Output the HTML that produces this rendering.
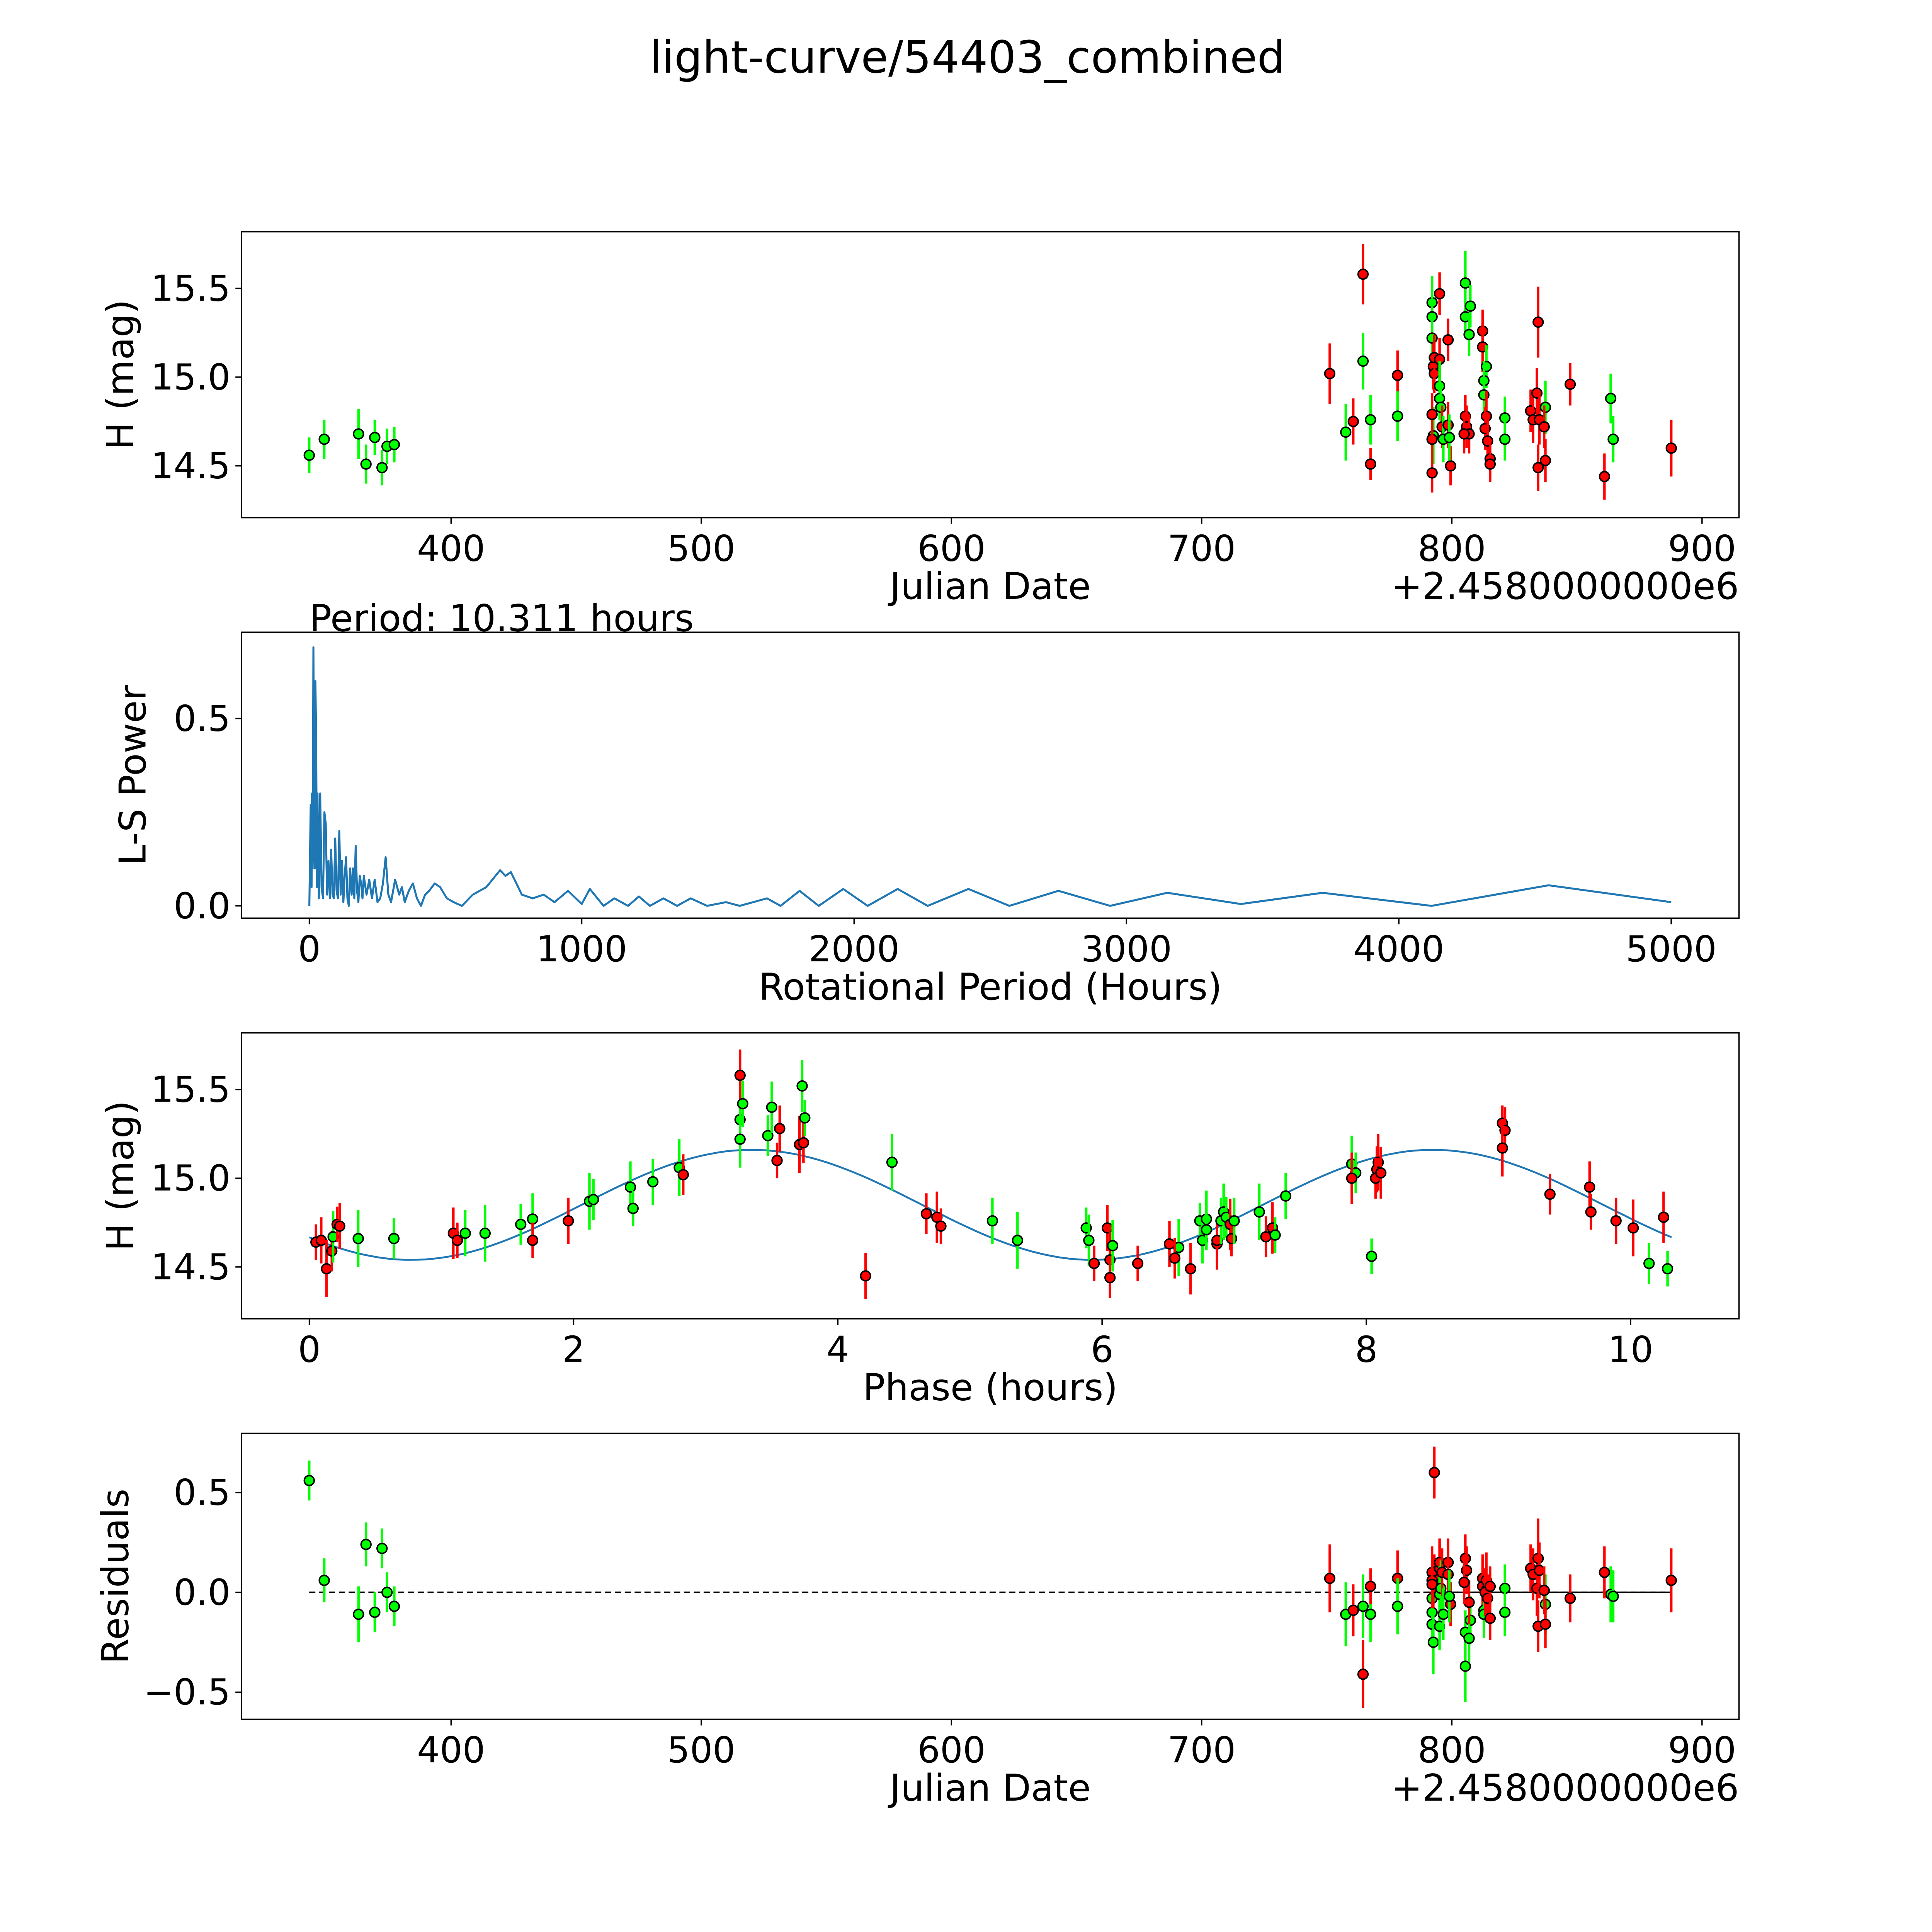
<!DOCTYPE html>
<html><head><meta charset="utf-8"><meta name="viewport" content="width=5400, initial-scale=1"><style>html,body{margin:0;padding:0;background:#fff;width:5400px;height:5400px;overflow:hidden}svg{display:block;width:5400px;height:5400px}</style></head>
<body>
<svg id="fig" xmlns="http://www.w3.org/2000/svg" width="5400" height="5400" viewBox="0 0 1693 1693" preserveAspectRatio="xMinYMin meet" font-family="'DejaVu Sans','Liberation Sans',sans-serif">
<rect width="1693" height="1693" fill="#fff"/>
<text x="785" y="59" font-size="36" text-anchor="middle">light-curve/54403_combined</text>
<g id="g"></g>
</svg>
<script>
// ---- Panel 1: observations ----
const obsDate=[343.3,349.3,363,366,369.5,372.4,374.4,377.3,
751.2,757.6,760.6,764.5,764.5,767.5,767.5,778.3,778.3,
792.1,792.1,792.1,792.6,793,793,792.6,792.1,792.1,792.1,
795.1,795.1,795.1,795.1,795.6,796.1,796.6,
798.5,798.5,799.5,799,
805.4,805.4,807.4,806.9,805.4,805.9,806.9,804.9,
812.3,812.3,813.8,812.8,812.8,813.8,813.3,814.3,815.3,815.3,
821.2,821.2,
831.5,832.5,834,834.5,834.5,835,837.4,836.9,837.4,
847.3,863.5,864.5,861,887.7];
const obsMag=[14.56,14.65,14.68,14.51,14.66,14.49,14.61,14.62,
15.02,14.69,14.75,15.58,15.09,14.76,14.51,15.01,14.78,
15.42,15.34,15.22,15.06,15.02,15.11,14.67,14.65,14.46,14.79,
15.47,15.10,14.95,14.88,14.83,14.72,14.65,
15.21,14.73,14.50,14.66,
15.53,15.34,15.40,15.24,14.78,14.72,14.68,14.68,
15.26,15.17,15.06,14.98,14.90,14.78,14.71,14.64,14.54,14.51,
14.77,14.65,
14.81,14.76,14.91,15.31,14.49,14.76,14.83,14.72,14.53,
14.96,14.88,14.65,14.44,14.60];
const obsErr=[0.1,0.11,0.14,0.11,0.1,0.1,0.1,0.1,
0.17,0.16,0.13,0.17,0.16,0.14,0.09,0.14,0.14,
0.15,0.13,0.12,0.13,0.11,0.13,0.16,0.13,0.11,0.12,
0.12,0.12,0.14,0.12,0.14,0.12,0.13,
0.12,0.13,0.11,0.13,
0.18,0.11,0.12,0.12,0.12,0.12,0.11,0.11,
0.12,0.14,0.12,0.11,0.12,0.14,0.12,0.12,0.11,0.1,
0.12,0.12,
0.12,0.13,0.14,0.2,0.13,0.14,0.15,0.12,0.12,
0.12,0.14,0.13,0.13,0.16];
const obsRed=[0,0,0,0,0,0,0,0,
1,0,1,1,0,0,1,1,0,
0,0,0,1,1,1,0,1,1,1,
1,1,0,0,0,1,0,
1,1,1,0,
0,0,0,0,1,1,1,1,
1,1,0,0,0,1,1,1,1,1,
0,0,
1,1,1,1,1,1,0,1,1,
1,0,0,1,1];
const resid=[0.56,0.06,-0.11,0.24,-0.10,0.22,0.0,-0.07,
0.07,-0.11,-0.09,-0.41,-0.07,-0.11,0.03,0.07,-0.07,
-0.03,-0.10,-0.16,0.05,0.08,0.60,-0.25,0.10,0.06,0.04,
0.12,0.15,-0.01,-0.17,0.02,0.10,-0.11,
0.15,0.09,-0.06,-0.02,
-0.37,-0.20,-0.14,-0.23,0.17,0.11,-0.05,0.05,
0.07,0.03,0.01,-0.09,-0.11,0.06,0.00,-0.03,-0.13,0.03,
0.02,-0.10,
0.12,0.09,0.02,0.17,-0.17,0.11,-0.06,0.01,-0.16,
-0.03,-0.01,-0.02,0.10,0.06];
// ---- Panel 2: periodogram ----
const lsPeriod=[0,5,8,10,12,15,18,20,22,25,28,30,35,40,45,50,55,60,65,70,75,80,85,90,95,100,105,110,115,120,125,130,135,140,145,150,155,160,165,170,175,180,185,190,195,200,210,220,230,240,250,260,270,280,290,300,315,330,340,350,365,380,395,410,425,440,460,480,505,530,560,600,650,700,720,740,760,780,820,860,900,950,1000,1030,1080,1120,1170,1210,1250,1300,1350,1400,1460,1530,1580,1680,1730,1800,1870,1960,2050,2160,2270,2420,2570,2750,2940,3150,3420,3720,4120,4550,5000];
const lsPower=[0,0.27,0.05,0.3,0.1,0.69,0.2,0.1,0.6,0.45,0.05,0.3,0.02,0.3,0.05,0.02,0.25,0.22,0.03,0.12,0.02,0.15,0.03,0.02,0.18,0.04,0.02,0.2,0.03,0.12,0.01,0.08,0.13,0.02,0.0,0.1,0.03,0.1,0.02,0.16,0.04,0.01,0.08,0.06,0.02,0.08,0.03,0.07,0.02,0.07,0.01,0.02,0.06,0.13,0.03,0.01,0.07,0.03,0.05,0.01,0.04,0.06,0.02,0.0,0.03,0.04,0.06,0.05,0.02,0.01,0.0,0.03,0.05,0.095,0.08,0.09,0.06,0.03,0.02,0.03,0.01,0.04,0.005,0.045,0.0,0.02,0.0,0.025,0.0,0.02,0.0,0.02,0.0,0.01,0.0,0.02,0.0,0.04,0.0,0.045,0.0,0.045,0.0,0.045,0.0,0.04,0.0,0.035,0.005,0.035,0.0,0.055,0.01];
// ---- Panel 3: phased ----
const phase=[0.05,0.09,0.13,0.17,0.18,0.21,0.23,0.37,0.64,1.09,1.12,1.18,1.33,1.6,1.69,1.69,1.96,2.12,2.15,2.43,2.45,2.6,2.8,2.83,3.26,3.26,3.28,3.26,3.47,3.5,3.54,3.56,3.71,3.74,3.73,3.75,4.21,4.41,4.67,4.75,4.78,5.17,5.36,5.88,5.9,5.94,6.04,6.06,6.06,6.08,6.27,6.51,6.58,6.55,6.67,6.74,6.76,6.79,6.79,6.87,6.87,6.9,6.92,6.94,6.97,6.98,7.0,7.19,7.24,7.29,7.31,7.39,7.89,7.92,7.89,8.04,8.08,8.09,8.07,8.11,9.03,9.05,9.03,9.39,9.69,9.7,9.89,10.02,10.14,10.25,10.28];
const phaseMag=[14.64,14.65,14.49,14.59,14.67,14.74,14.73,14.66,14.66,14.69,14.65,14.69,14.69,14.74,14.77,14.65,14.76,14.87,14.88,14.95,14.83,14.98,15.06,15.02,15.58,15.33,15.42,15.22,15.24,15.40,15.10,15.28,15.19,15.20,15.52,15.34,14.45,15.09,14.80,14.78,14.73,14.76,14.65,14.72,14.65,14.52,14.72,14.54,14.44,14.62,14.52,14.63,14.61,14.55,14.49,14.76,14.65,14.77,14.71,14.63,14.65,14.76,14.81,14.78,14.74,14.66,14.76,14.81,14.67,14.72,14.68,14.90,15.08,15.03,15.00,14.56,15.05,15.09,15.00,15.03,15.31,15.27,15.17,14.91,14.95,14.81,14.76,14.72,14.52,14.78,14.49];
const phaseRed=[1,1,1,1,0,1,1,0,0,1,1,0,0,0,0,1,1,0,0,0,0,0,0,1,1,0,0,0,0,0,1,1,1,1,0,0,1,0,1,1,1,0,0,0,0,1,1,1,1,0,1,1,0,1,1,0,0,0,0,1,1,0,0,0,1,1,0,0,1,1,0,0,0,0,1,0,1,1,1,1,1,1,1,1,1,1,1,1,0,1,0];
const phaseErr=phaseRed.map((r,i)=>0.1+((i*7)%5)*0.015);
const modelParams=[14.85,0.31,3.35,10.311]; // mean, amp, epoch, period

const NS="http://www.w3.org/2000/svg";
const G=document.getElementById('g');
function el(t,a,p){const e=document.createElementNS(NS,t);for(const k in a)e.setAttribute(k,a[k]);(p||G).appendChild(e);return e;}
function txt(s,a,p){const e=el('text',a,p);e.textContent=s;return e;}
function lin(d0,p0,d1,p1){return v=>p0+(v-d0)*(p1-p0)/(d1-d0);}
function frame(name){
  const g=el('g',{});
  return g;
}
function axes(g,x0,y0,x1,y1,xt,xs,yt,ys,xlab,ylab,ylx){
  el('rect',{x:x0,y:y0,width:x1-x0,height:y1-y0,fill:'none',stroke:'#000','stroke-width':1.1},g);
  const xa=el('g',{},g);
  xt.forEach(t=>{const X=xs(t);el('line',{x1:X,x2:X,y1:y1,y2:y1+5,stroke:'#000','stroke-width':1.1},xa);
    const tt=txt(String(t),{x:X,y:y1+35,'font-size':29,'text-anchor':'middle'},xa);});
  const xl=txt(xlab,{x:(x0+x1)/2,y:y1+66,'font-size':30,'text-anchor':'middle'},xa);
  const ya=el('g',{},g);
  yt.forEach(t=>{const Y=ys(t);el('line',{x1:x0-5,x2:x0,y1:Y,y2:Y,stroke:'#000','stroke-width':1.1},ya);
    const tt=txt(t.toFixed(1).replace('-','\u2212'),{x:x0-9,y:Y+10,'font-size':29,'text-anchor':'end'},ya);});
  const yl=txt(ylab,{x:ylx,y:(y0+y1)/2,'font-size':30,'text-anchor':'middle',transform:`rotate(-90 ${ylx} ${(y0+y1)/2})`},ya);
  
}
function point(g,X,Y,eY0,eY1,red){
  const c=red?'#ff0000':'#00ff00';
  const e=el('line',{x1:X,x2:X,y1:eY0,y2:eY1,stroke:c,'stroke-width':2},g);
  
  const m=el('circle',{cx:X,cy:Y,r:4,fill:c,stroke:'#000','stroke-width':1.2},g);
  
}
const dTicks=[400,500,600,700,800,900];

// Panel 1
{const g=frame('light-curve-panel');const xs=lin(400,366,900,1381),ys=lin(15,306,15.5,234);
 axes(g,196,188,1411,420,dTicks,xs,[14.5,15.0,15.5],ys,'Julian Date','H (mag)',108);
 const off=txt('+2.4580000000e6',{x:1411,y:486,'font-size':30,'text-anchor':'end'},g);
 const pts=el('g',{},g);
 obsDate.forEach((d,i)=>point(pts,xs(d),ys(obsMag[i]),ys(obsMag[i]+obsErr[i]),ys(obsMag[i]-obsErr[i]),obsRed[i]));}

// Panel 2
{const g=frame('periodogram-panel');const xs=lin(0,251,5000,1356),ys=lin(0,735,0.5,583);
 axes(g,196,513,1411,745,[0,1000,2000,3000,4000,5000],xs,[0.0,0.5],ys,'Rotational Period (Hours)','L-S Power',118);
 const pt=txt('Period: 10.311 hours',{x:251,y:512,'font-size':30},g);
 const pl=el('polyline',{points:lsPeriod.map((p,i)=>xs(p).toFixed(1)+','+ys(lsPower[i]).toFixed(1)).join(' '),fill:'none',stroke:'#1f77b4','stroke-width':1.6,'stroke-linejoin':'round'},g);
 }

// Panel 3
{const g=frame('phased-panel');const xs=lin(0,251,10,1323),ys=lin(15,956,15.5,884);
 axes(g,196,838,1411,1070,[0,2,4,6,8,10],xs,[14.5,15.0,15.5],ys,'Phase (hours)','H (mag)',108);
 const [mu,A,t0,P]=modelParams;const mp=[];
 for(let k=0;k<=200;k++){const t=P*k/200;const m=mu+A*Math.cos(4*Math.PI*(t-t0)/P);mp.push(xs(t).toFixed(1)+','+ys(m).toFixed(1));}
 const ml=el('polyline',{points:mp.join(' '),fill:'none',stroke:'#1f77b4','stroke-width':1.5},g);
 const pts=el('g',{},g);
 phase.forEach((p,i)=>point(pts,xs(p),ys(phaseMag[i]),ys(phaseMag[i]+phaseErr[i]),ys(phaseMag[i]-phaseErr[i]),phaseRed[i]));}

// Panel 4
{const g=frame('residuals-panel');const xs=lin(400,366,900,1381),ys=lin(0,1292,0.5,1211);
 axes(g,196,1163,1411,1395,dTicks,xs,[-0.5,0.0,0.5],ys,'Julian Date','Residuals',104);
 const off=txt('+2.4580000000e6',{x:1411,y:1461,'font-size':30,'text-anchor':'end'},g);
 const z=el('line',{x1:xs(343.3),x2:xs(887.7),y1:ys(0),y2:ys(0),stroke:'#000','stroke-width':1.3,'stroke-dasharray':'5,3'},g);
 const z2=el('line',{x1:xs(790),x2:xs(887.7),y1:ys(0),y2:ys(0),stroke:'#000','stroke-width':1.3},g);
 const pts=el('g',{},g);
 obsDate.forEach((d,i)=>point(pts,xs(d),ys(resid[i]),ys(resid[i]+obsErr[i]),ys(resid[i]-obsErr[i]),obsRed[i]));}
</script>
</body></html>
